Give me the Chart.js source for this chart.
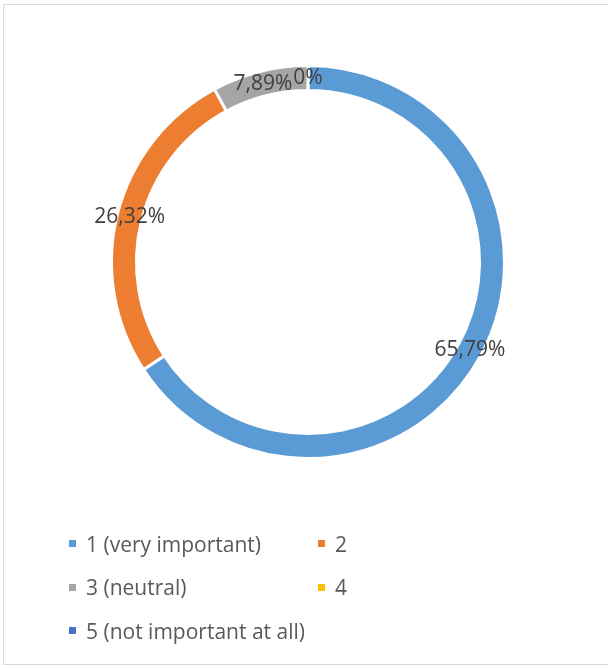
<!DOCTYPE html>
<html>
<head>
<meta charset="utf-8">
<script src="https://cdn.jsdelivr.net/npm/chart.js@4.4.1/dist/chart.umd.min.js"></script>
<style>
  html, body { margin: 0; padding: 0; background: #fff; }
  body { width: 608px; height: 668px; position: relative; overflow: hidden; }
  #frame { position: absolute; left: 3px; top: 4px; width: 700px; height: 661px; border: 1px solid #d9d9d9; border-right: none; box-sizing: border-box; }
  #wrap { position: absolute; left: 0; top: 0; width: 608px; height: 668px; }
  #legend { position: absolute; left: 69px; top: 522px; display: grid; grid-template-columns: 249px 120px; grid-auto-rows: 43.5px;
            font-family: "Open Sans", sans-serif; font-size: 21px; color: #595959; }
  .item { display: flex; align-items: center; white-space: nowrap; }
  .box { width: 7px; height: 7px; margin-right: 10px; flex: none; }
</style>
</head>
<body>
<div id="frame"></div>
<div id="wrap"><canvas id="chart"></canvas></div>
<div id="legend"></div>
<script>
// Survey answers: share of respondents per importance rating
const categories = ['1 (very important)', '2', '3 (neutral)', '4', '5 (not important at all)'];
const shares = [65.79, 26.32, 7.89, 0, 0];
const shareLabels = ['65,79%', '26,32%', '7,89%', '0%', ''];
const colors = ['#5B9BD5', '#ED7D31', '#A5A5A5', '#FFC000', '#4472C4'];

// Draws each share label on the middle of its ring segment
const ringLabels = {
  id: 'ringLabels',
  afterDatasetsDraw(chart) {
    const ctx = chart.ctx;
    const meta = chart.getDatasetMeta(0);
    ctx.save();
    ctx.font = '21px "Open Sans", sans-serif';
    ctx.fillStyle = '#404040';
    ctx.textAlign = 'center';
    ctx.textBaseline = 'middle';
    meta.data.forEach((arc, i) => {
      const text = shareLabels[i];
      if (!text) return;
      const p = arc.getProps(['x', 'y', 'startAngle', 'endAngle', 'innerRadius', 'outerRadius'], true);
      const mid = (p.startAngle + p.endAngle) / 2;
      const r = (p.innerRadius + p.outerRadius) / 2;
      ctx.fillText(text, p.x + Math.cos(mid) * r, p.y + Math.sin(mid) * r);
    });
    ctx.restore();
  }
};

const chart = new Chart(document.getElementById('chart'), {
  type: 'doughnut',
  data: {
    labels: categories,
    datasets: [{
      data: shares,
      backgroundColor: colors,
      borderColor: '#ffffff',
      borderWidth: 3,
      hoverOffset: 0
    }]
  },
  options: {
    responsive: true,
    maintainAspectRatio: false,
    animation: false,
    cutout: '87.3%',
    layout: { padding: { left: 110, right: 102, top: 64, bottom: 208 } },
    plugins: { legend: { display: false }, tooltip: { enabled: false } }
  },
  plugins: [ringLabels]
});

// Legend built from the same categories and colours
const legend = document.getElementById('legend');
categories.forEach((name, i) => {
  const item = document.createElement('div');
  item.className = 'item';
  const box = document.createElement('span');
  box.className = 'box';
  box.style.background = colors[i];
  const label = document.createElement('span');
  label.textContent = name;
  item.appendChild(box);
  item.appendChild(label);
  legend.appendChild(item);
});
</script>
</body>
</html>
